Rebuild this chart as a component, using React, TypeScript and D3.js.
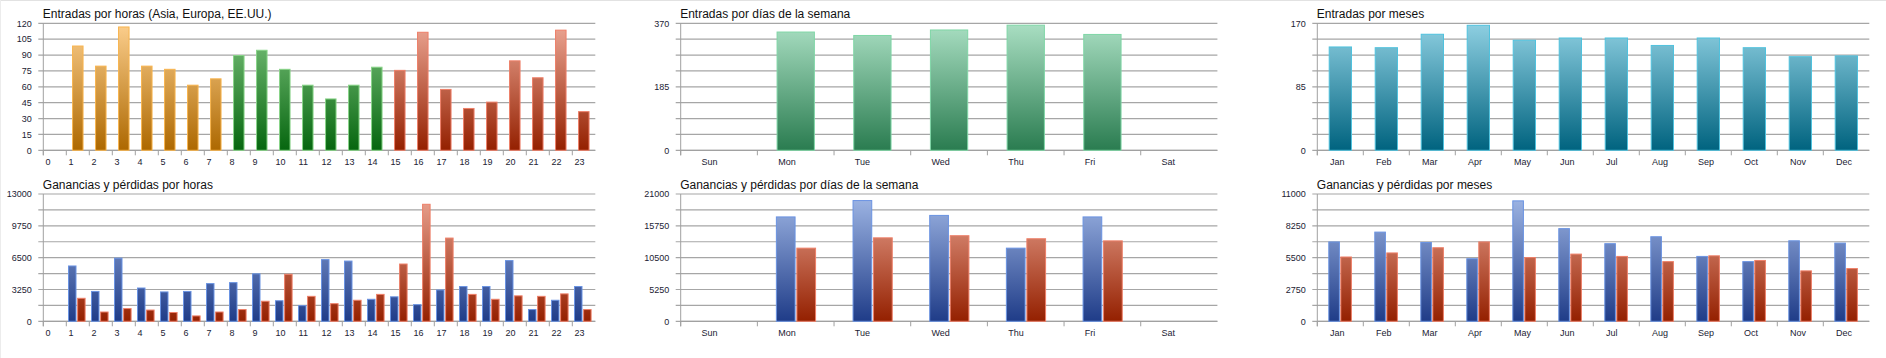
import React from 'react';
import * as d3 from 'd3';

// ---------- data ----------
const hourLabels = ['0','1','2','3','4','5','6','7','8','9','10','11','12','13','14','15','16','17','18','19','20','21','22','23'];
const hourEntries = [0,99,80,117,80,77,62,68,90,95,77,62,49,62,79,76,112,58,40,46,85,69,114,37];
const hourGains = [0,5700,3100,6500,3450,3050,3100,3900,4000,4900,2150,1650,6350,6200,2300,2550,1750,3250,3600,3600,6250,1250,2200,3600];
const hourLosses = [0,2400,1000,1350,1200,950,600,1000,1250,2100,4850,2600,1850,2200,2800,5900,12000,8550,2800,2300,2650,2600,2850,1250];

const dayLabels = ['Sun','Mon','Tue','Wed','Thu','Fri','Sat'];
const dayEntries = [0,346,336,352,366,339,0];
const dayGains = [0,17300,20000,17550,12150,17300,0];
const dayLosses = [0,12150,13850,14200,13700,13350,0];

const monthLabels = ['Jan','Feb','Mar','Apr','May','Jun','Jul','Aug','Sep','Oct','Nov','Dec'];
const monthEntries = [139,138,156,168,148,151,151,141,151,138,126,127];
const monthGains = [6900,7750,6850,5450,10450,8050,6750,7350,5650,5200,7000,6800];
const monthLosses = [5600,5950,6400,6900,5550,5850,5650,5200,5700,5300,4400,4600];

// region of each hour (Asia, Europa, EE.UU.)
const hourRegion = ['asia','asia','asia','asia','asia','asia','asia','asia','eu','eu','eu','eu','eu','eu','eu','us','us','us','us','us','us','us','us','us'];

const titles = [
  'Entradas por horas (Asia, Europa, EE.UU.)',
  'Entradas por días de la semana',
  'Entradas por meses',
  'Ganancias y pérdidas por horas',
  'Ganancias y pérdidas por días de la semana',
  'Ganancias y pérdidas por meses',
];

// ---------- styles ----------
const palettes: Record<string, { top: string; bottom: string; stroke: string }> = {
  asia: { top: '#fccf8e', bottom: '#ad6800', stroke: '#f8b44e' },
  eu: { top: '#7fc47f', bottom: '#06660f', stroke: '#88d488' },
  us: { top: '#eca795', bottom: '#942000', stroke: '#ee7f68' },
  day: { top: '#aadfc3', bottom: '#2a7c50', stroke: '#7fd6a6' },
  month: { top: '#8fd0e2', bottom: '#00637f', stroke: '#50c2de' },
  gain: { top: '#a1b8e6', bottom: '#1f3c88', stroke: '#6a93e2' },
  loss: { top: '#eca795', bottom: '#942000', stroke: '#ee7f68' },
};

const FONT = 'Liberation Sans, Arial, sans-serif';

type Series = { values: number[]; color: (i: number) => string };

type ChartProps = {
  id: string;
  title: string;
  labels: string[];
  series: Series[];
  x0: number;
  x1: number;
  yTop: number;
  yBottom: number;
  yMax: number;
  gridStep: number;
  labelEvery: number;
  barW: number;
  barOffsets: number[]; // offset of each series bar from band start
  labelDx: number; // label start from band start
};

function Chart(p: ChartProps) {
  const x = d3.scaleBand<string>().domain(p.labels).range([p.x0, p.x1]).padding(0);
  const y = d3.scaleLinear().domain([0, p.yMax]).range([p.yBottom, p.yTop]);
  const grid = d3.range(0, p.yMax + p.gridStep / 2, p.gridStep);
  const usedPalettes = Array.from(new Set(p.series.flatMap((s) => p.labels.map((_, i) => s.color(i)))));
  return (
    <g>
      <defs>
        {usedPalettes.map((k) => (
          <linearGradient key={k} id={`${p.id}-${k}`} gradientUnits="userSpaceOnUse" x1={0} x2={0} y1={p.yTop} y2={p.yBottom}>
            <stop offset="0" stopColor={palettes[k].top} />
            <stop offset="1" stopColor={palettes[k].bottom} />
          </linearGradient>
        ))}
      </defs>
      <text x={p.x0 - 0.5} y={p.yTop - 5} fontFamily={FONT} fontSize={12} fill="#111">
        {p.title}
      </text>
      {grid.map((v, i) => (
        <g key={i}>
          <line x1={p.x0 - 5} x2={p.x1} y1={y(v)} y2={y(v)} stroke="#a6a6a6" strokeWidth={1.2} />
          {i % p.labelEvery === 0 && (
            <text x={p.x0 - 11.5} y={y(v) + 3.2} textAnchor="end" fontFamily={FONT} fontSize={9} fill="#222233">
              {d3.format('d')(v)}
            </text>
          )}
        </g>
      ))}
      <line x1={p.x0} x2={p.x0} y1={p.yTop} y2={p.yBottom + 5} stroke="#a0a0a0" />
      <line x1={p.x0} x2={p.x1} y1={p.yBottom} y2={p.yBottom} stroke="#a0a0a0" />
      {p.labels.map((l) => (
        <g key={l}>
          <line x1={x(l)!} x2={x(l)!} y1={p.yBottom} y2={p.yBottom + 5} stroke="#a0a0a0" />
          <text x={x(l)! + p.labelDx} y={p.yBottom + 14.8} fontFamily={FONT} fontSize={9} fill="#222233">
            {l}
          </text>
        </g>
      ))}
      {p.series.map((s, si) =>
        s.values.map((v, i) =>
          v > 0 ? (
            <rect
              key={`${si}-${i}`}
              x={x(p.labels[i])! + p.barOffsets[si] + 0.5}
              width={p.barW - 1}
              y={y(v) + 0.5}
              height={y(0) - y(v) - 0.5}
              fill={`url(#${p.id}-${s.color(i)})`}
              stroke={palettes[s.color(i)].stroke}
              strokeWidth={1}
            />
          ) : null
        )
      )}
    </g>
  );
}

export default function App() {
  const top = { yTop: 23.3, yBottom: 150.3 };
  const bot = { yTop: 194, yBottom: 321.3 };
  const L = { x0: 43.3, x1: 595.3 };
  const M = { x0: 680.7, x1: 1217.4 };
  const R = { x0: 1317.3, x1: 1869.3 };
  return (
    <div style={{ position: 'absolute', left: 0, top: 0 }}>
      <svg width={1886} height={358} style={{ display: 'block' }}>
        <rect x={0} y={0} width={1886} height={358} fill="#fff" />
        <line x1={0} x2={1886} y1={0.5} y2={0.5} stroke="#e2e2e2" />
        <line x1={0.5} x2={0.5} y1={0} y2={358} stroke="#ececec" />
        <Chart id="c1" title={titles[0]} labels={hourLabels}
          series={[{ values: hourEntries, color: (i) => hourRegion[i] }]}
          {...L} {...top} yMax={120} gridStep={15} labelEvery={1}
          barW={11.5} barOffsets={[5.75]} labelDx={2.3} />
        <Chart id="c2" title={titles[1]} labels={dayLabels}
          series={[{ values: dayEntries, color: () => 'day' }]}
          {...M} {...top} yMax={370} gridStep={46.25} labelEvery={4}
          barW={38.3} barOffsets={[19.2]} labelDx={20.8} />
        <Chart id="c3" title={titles[2]} labels={monthLabels}
          series={[{ values: monthEntries, color: () => 'month' }]}
          {...R} {...top} yMax={170} gridStep={21.25} labelEvery={4}
          barW={23.3} barOffsets={[11.4]} labelDx={12.7} />
        <Chart id="c4" title={titles[3]} labels={hourLabels}
          series={[{ values: hourGains, color: () => 'gain' }, { values: hourLosses, color: () => 'loss' }]}
          {...L} {...bot} yMax={13000} gridStep={1625} labelEvery={2}
          barW={8.5} barOffsets={[1.7, 10.8]} labelDx={2.3} />
        <Chart id="c5" title={titles[4]} labels={dayLabels}
          series={[{ values: dayGains, color: () => 'gain' }, { values: dayLosses, color: () => 'loss' }]}
          {...M} {...bot} yMax={21000} gridStep={2625} labelEvery={2}
          barW={19.7} barOffsets={[18.5, 39]} labelDx={20.8} />
        <Chart id="c6" title={titles[5]} labels={monthLabels}
          series={[{ values: monthGains, color: () => 'gain' }, { values: monthLosses, color: () => 'loss' }]}
          {...R} {...bot} yMax={11000} gridStep={1375} labelEvery={2}
          barW={11.6} barOffsets={[11, 23]} labelDx={12.7} />
      </svg>
    </div>
  );
}
